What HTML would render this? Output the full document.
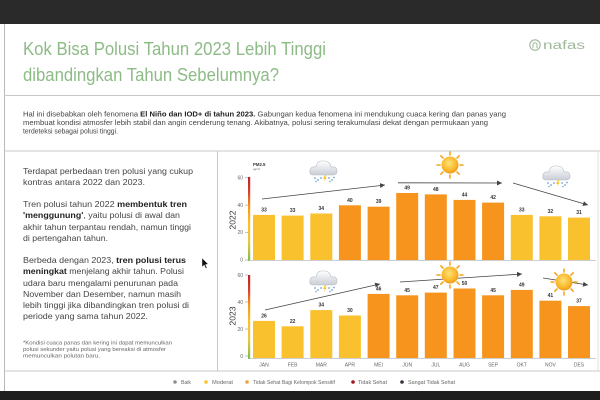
<!DOCTYPE html>
<html><head><meta charset="utf-8"><style>
html,body{margin:0;padding:0;background:#fff;}
svg{display:block;font-family:"Liberation Sans",Arial,sans-serif;}
</style></head><body>
<svg width="600" height="400" viewBox="0 0 600 400" xmlns="http://www.w3.org/2000/svg">
<defs>
<linearGradient id="axg" x1="0" y1="0" x2="0" y2="1">
<stop offset="0" stop-color="#b8232b"/><stop offset="0.18" stop-color="#d9402a"/>
<stop offset="0.35" stop-color="#f7941e"/><stop offset="0.55" stop-color="#fbc02d"/>
<stop offset="0.78" stop-color="#e8c83a"/><stop offset="1" stop-color="#7dbb4a"/>
</linearGradient>
<radialGradient id="sung" cx="0.45" cy="0.4" r="0.6">
<stop offset="0" stop-color="#ffe27a"/><stop offset="0.7" stop-color="#f9b82a"/><stop offset="1" stop-color="#f09a1a"/>
</radialGradient>
<linearGradient id="cldg" x1="0" y1="0" x2="0" y2="1">
<stop offset="0" stop-color="#ffffff"/><stop offset="1" stop-color="#c9ced6"/>
</linearGradient>
<marker id="ah" markerWidth="6" markerHeight="6" refX="5" refY="3" orient="auto" markerUnits="userSpaceOnUse">
<path d="M0,0.5 L5,3 L0,5.5 Z" fill="#444"/>
</marker>
<g id="sun">
<g stroke="#f4a623" stroke-width="1.6" stroke-linecap="round">
<line x1="0" y1="-10" x2="0" y2="-13"/><line x1="0" y1="10" x2="0" y2="13"/>
<line x1="-10" y1="0" x2="-13" y2="0"/><line x1="10" y1="0" x2="13" y2="0"/>
<line x1="7" y1="7" x2="9.2" y2="9.2"/><line x1="-7" y1="7" x2="-9.2" y2="9.2"/>
<line x1="7" y1="-7" x2="9.2" y2="-9.2"/><line x1="-7" y1="-7" x2="-9.2" y2="-9.2"/>
</g>
<circle r="8.5" fill="url(#sung)"/>
</g>
<g id="cloud">
<path d="M-11,5 Q-15,5 -14,0 Q-13,-4 -8,-3 Q-7,-10 0,-9 Q6,-9 7,-3 Q13,-4 13,1 Q13,5 9,5 Z" fill="url(#cldg)" stroke="#b5bcc6" stroke-width="0.6"/>
<path d="M1,5 L-1,9 L1,9 L-0.5,12 L3,7.5 L1,7.5 L2.5,5 Z" fill="#f6c526"/>
<g fill="#6fa3d8">
<circle cx="-9" cy="8" r="0.9"/><circle cx="-6" cy="10" r="0.9"/><circle cx="-3" cy="8" r="0.9"/>
<circle cx="5" cy="8" r="0.9"/><circle cx="8" cy="10" r="0.9"/><circle cx="10" cy="7.5" r="0.9"/>
<circle cx="-8" cy="11.5" r="0.8"/><circle cx="6" cy="11.5" r="0.8"/>
</g>
</g>
</defs>

<!-- dark bands -->
<rect x="0" y="0" width="600" height="24" fill="#2a2a2a"/>
<rect x="0" y="391" width="600" height="9" fill="#1e1e1e"/>

<!-- frame lines -->
<line x1="4.5" y1="24" x2="4.5" y2="391" stroke="#b9b9b9" stroke-width="1"/>
<line x1="4" y1="95.5" x2="600" y2="95.5" stroke="#c8c8c8" stroke-width="1"/>
<line x1="4" y1="151" x2="600" y2="151" stroke="#c8c8c8" stroke-width="1"/>
<line x1="4" y1="371" x2="600" y2="371" stroke="#c8c8c8" stroke-width="1"/>
<line x1="217.5" y1="151" x2="217.5" y2="371" stroke="#c8c8c8" stroke-width="1"/>
<line x1="598" y1="151" x2="598" y2="371" stroke="#e2e2e2" stroke-width="1"/>

<!-- title -->
<g fill="#8dbb86" font-size="18">
<text x="23" y="55" textLength="303" lengthAdjust="spacingAndGlyphs">Kok Bisa Polusi Tahun 2023 Lebih Tinggi</text>
<text x="23" y="81" textLength="256" lengthAdjust="spacingAndGlyphs">dibandingkan Tahun Sebelumnya?</text>
</g>
<!-- logo -->
<g>
<circle cx="535" cy="45" r="5.2" fill="none" stroke="#9fb899" stroke-width="1.1"/>
<path d="M533,48 L533,44 Q535,41.5 537,44 L537,48" fill="none" stroke="#9fb899" stroke-width="1"/>
<text x="543" y="49" font-size="11.5" fill="#9fb899" textLength="42" lengthAdjust="spacingAndGlyphs">nafas</text>
</g>

<!-- intro -->
<g font-size="7" fill="#444">
<text x="23" y="116.5" textLength="483" lengthAdjust="spacingAndGlyphs">Hal ini disebabkan oleh fenomena <tspan font-weight="bold" fill="#222">El Niño dan IOD+ di tahun 2023.</tspan> Gabungan kedua fenomena ini mendukung cuaca kering dan panas yang</text>
<text x="23" y="125" textLength="465" lengthAdjust="spacingAndGlyphs">membuat kondisi atmosfer lebih stabil dan angin cenderung tenang. Akibatnya, polusi sering terakumulasi dekat dengan permukaan yang</text>
<text x="23" y="133.5" textLength="95" lengthAdjust="spacingAndGlyphs">terdeteksi sebagai polusi tinggi.</text>
</g>

<!-- left panel -->
<g font-size="8.6" fill="#444">
<text x="23" y="174" textLength="170" lengthAdjust="spacingAndGlyphs">Terdapat perbedaan tren polusi yang cukup</text>
<text x="23" y="185" textLength="122" lengthAdjust="spacingAndGlyphs">kontras antara 2022 dan 2023.</text>
<text x="23" y="207" textLength="164" lengthAdjust="spacingAndGlyphs">Tren polusi tahun 2022 <tspan font-weight="bold" fill="#222">membentuk tren</tspan></text>
<text x="23" y="218" textLength="157" lengthAdjust="spacingAndGlyphs"><tspan font-weight="bold" fill="#222">'menggunung'</tspan>, yaitu polusi di awal dan</text>
<text x="23" y="230" textLength="168" lengthAdjust="spacingAndGlyphs">akhir tahun terpantau rendah, namun tinggi</text>
<text x="23" y="241" textLength="85" lengthAdjust="spacingAndGlyphs">di pertengahan tahun.</text>
<text x="23" y="263" textLength="163" lengthAdjust="spacingAndGlyphs">Berbeda dengan 2023, <tspan font-weight="bold" fill="#222">tren polusi terus</tspan></text>
<text x="23" y="274" textLength="161" lengthAdjust="spacingAndGlyphs"><tspan font-weight="bold" fill="#222">meningkat</tspan> menjelang akhir tahun. Polusi</text>
<text x="23" y="286" textLength="155" lengthAdjust="spacingAndGlyphs">udara baru mengalami penurunan pada</text>
<text x="23" y="297" textLength="158" lengthAdjust="spacingAndGlyphs">November dan Desember, namun masih</text>
<text x="23" y="308" textLength="166" lengthAdjust="spacingAndGlyphs">lebih tinggi jika dibandingkan tren polusi di</text>
<text x="23" y="319" textLength="125" lengthAdjust="spacingAndGlyphs">periode yang sama tahun 2022.</text>
</g>
<g font-size="5" fill="#666">
<text x="23" y="344.5" textLength="149" lengthAdjust="spacingAndGlyphs">*Kondisi cuaca panas dan kering ini dapat memunculkan</text>
<text x="23" y="351" textLength="143" lengthAdjust="spacingAndGlyphs">polusi sekunder yaitu polusi yang bereaksi di atmosfer</text>
<text x="23" y="357.5" textLength="77" lengthAdjust="spacingAndGlyphs">memunculkan polutan baru.</text>
</g>
<!-- cursor -->
<path d="M202,258 L202,267 L204.2,265 L205.8,268.5 L207,268 L205.5,264.5 L208.3,264.3 Z" fill="#111" stroke="#fff" stroke-width="0.4"/>

<!-- legend -->
<g font-size="5" fill="#666">
<circle cx="175" cy="382" r="1.8" fill="#8b9488"/><text x="181" y="383.8" textLength="10" lengthAdjust="spacingAndGlyphs">Baik</text>
<circle cx="206" cy="382" r="1.8" fill="#fbc02d"/><text x="212" y="383.8" textLength="21" lengthAdjust="spacingAndGlyphs">Moderat</text>
<circle cx="247" cy="382" r="1.8" fill="#f0a040"/><text x="253" y="383.8" textLength="82" lengthAdjust="spacingAndGlyphs">Tidak Sehat Bagi Kelompok Sensitif</text>
<circle cx="353" cy="382" r="1.8" fill="#a3131c"/><text x="358" y="383.8" textLength="29" lengthAdjust="spacingAndGlyphs">Tidak Sehat</text>
<circle cx="402" cy="382" r="1.8" fill="#3b2e3e"/><text x="408" y="383.8" textLength="47" lengthAdjust="spacingAndGlyphs">Sangat Tidak Sehat</text>
</g>

<!-- ===== TOP CHART 2022 ===== -->
<g>
<text x="253" y="166" font-size="4.3" font-weight="bold" fill="#333">PM2.5</text>
<text x="253" y="170" font-size="2.8" fill="#666">μg/m³</text>
<rect x="248" y="177" width="2.2" height="84" fill="url(#axg)"/>
<line x1="249" y1="260.5" x2="596" y2="260.5" stroke="#bdbdbd" stroke-width="0.8"/>
<g font-size="5" fill="#666" text-anchor="end">
<text x="243" y="179.5">60</text><text x="243" y="206.8">40</text><text x="243" y="234.2">20</text><text x="243" y="261.5">0</text>
</g>
<g stroke="#999" stroke-width="0.6">
<line x1="245" y1="177.8" x2="248" y2="177.8"/><line x1="245" y1="205.1" x2="248" y2="205.1"/><line x1="245" y1="232.5" x2="248" y2="232.5"/><line x1="245" y1="260" x2="248" y2="260"/>
</g>
<text transform="translate(235.5,220) rotate(-90)" font-size="8.5" fill="#333" text-anchor="middle">2022</text>
<g>
<rect x="253" y="214.9" width="22" height="45.1" fill="#fac12f"/>
<rect x="281.6" y="215.6" width="22" height="44.4" fill="#fac12f"/>
<rect x="310.3" y="213.5" width="22" height="46.5" fill="#fac12f"/>
<rect x="338.9" y="205.3" width="22" height="54.7" fill="#f7941e"/>
<rect x="367.6" y="206.7" width="22" height="53.3" fill="#f7941e"/>
<rect x="396.2" y="193.0" width="22" height="67.0" fill="#f7941e"/>
<rect x="424.8" y="194.4" width="22" height="65.6" fill="#f7941e"/>
<rect x="453.5" y="199.9" width="22" height="60.1" fill="#f7941e"/>
<rect x="482.1" y="202.6" width="22" height="57.4" fill="#f7941e"/>
<rect x="510.8" y="214.9" width="22" height="45.1" fill="#fac12f"/>
<rect x="539.4" y="216.3" width="22" height="43.7" fill="#fac12f"/>
<rect x="568.0" y="217.6" width="22" height="42.4" fill="#fac12f"/>
</g>
<g font-size="5" font-weight="bold" fill="#333" text-anchor="middle">
<text x="264" y="211.4">33</text><text x="292.6" y="212.1">33</text><text x="321.3" y="210">34</text>
<text x="349.9" y="201.8">40</text><text x="378.6" y="203.2">39</text><text x="407.2" y="189.5">49</text>
<text x="435.8" y="190.9">48</text><text x="464.5" y="196.4">44</text><text x="493.1" y="199.1">42</text>
<text x="521.8" y="211.4">33</text><text x="550.4" y="212.8">32</text><text x="579" y="214.1">31</text>
</g>
<g stroke="#444" stroke-width="0.8" fill="none">
<line x1="262" y1="199" x2="385" y2="185" marker-end="url(#ah)"/>
<line x1="398" y1="182.8" x2="502" y2="183" marker-end="url(#ah)"/>
<line x1="513" y1="183" x2="588" y2="205" marker-end="url(#ah)"/>
</g>
<use href="#cloud" x="324" y="170"/>
<use href="#sun" x="450" y="165"/>
<use href="#cloud" x="557" y="175"/>
</g>

<!-- ===== BOTTOM CHART 2023 ===== -->
<g>
<rect x="248" y="275" width="2.2" height="84" fill="url(#axg)"/>
<line x1="249" y1="358.5" x2="596" y2="358.5" stroke="#bdbdbd" stroke-width="0.8"/>
<g font-size="5" fill="#666" text-anchor="end">
<text x="243" y="277">60</text><text x="243" y="304">40</text><text x="243" y="331">20</text><text x="243" y="358">0</text>
</g>
<g stroke="#999" stroke-width="0.6">
<line x1="245" y1="275" x2="248" y2="275"/><line x1="245" y1="302" x2="248" y2="302"/><line x1="245" y1="329" x2="248" y2="329"/><line x1="245" y1="356" x2="248" y2="356"/>
</g>
<text transform="translate(235.5,316) rotate(-90)" font-size="8.5" fill="#333" text-anchor="middle">2023</text>
<g>
<rect x="253" y="320.9" width="22" height="37.1" fill="#fac12f"/>
<rect x="281.6" y="326.3" width="22" height="31.7" fill="#fac12f"/>
<rect x="310.3" y="310.1" width="22" height="47.9" fill="#fac12f"/>
<rect x="338.9" y="315.5" width="22" height="42.5" fill="#fac12f"/>
<rect x="367.6" y="293.9" width="22" height="64.1" fill="#f7941e"/>
<rect x="396.2" y="295.3" width="22" height="62.7" fill="#f7941e"/>
<rect x="424.8" y="292.6" width="22" height="65.4" fill="#f7941e"/>
<rect x="453.5" y="288.5" width="22" height="69.5" fill="#f7941e"/>
<rect x="482.1" y="295.3" width="22" height="62.7" fill="#f7941e"/>
<rect x="510.8" y="289.9" width="22" height="68.1" fill="#f7941e"/>
<rect x="539.4" y="300.7" width="22" height="57.3" fill="#f7941e"/>
<rect x="568.0" y="306.1" width="22" height="51.9" fill="#f7941e"/>
</g>
<g font-size="5" font-weight="bold" fill="#333" text-anchor="middle">
<text x="264" y="317.4">26</text><text x="292.6" y="322.8">22</text><text x="321.3" y="306.6">34</text>
<text x="349.9" y="312">30</text><text x="378.6" y="290.4">46</text><text x="407.2" y="291.8">45</text>
<text x="435.8" y="289.1">47</text><text x="464.5" y="285">50</text><text x="493.1" y="291.8">45</text>
<text x="521.8" y="286.4">49</text><text x="550.4" y="297.2">41</text><text x="579" y="302.6">37</text>
</g>
<g font-size="5" fill="#666" text-anchor="middle">
<text x="264" y="366.5">JAN</text><text x="292.6" y="366.5">FEB</text><text x="321.3" y="366.5">MAR</text>
<text x="349.9" y="366.5">APR</text><text x="378.6" y="366.5">MEI</text><text x="407.2" y="366.5">JUN</text>
<text x="435.8" y="366.5">JUL</text><text x="464.5" y="366.5">AUG</text><text x="493.1" y="366.5">SEP</text>
<text x="521.8" y="366.5">OKT</text><text x="550.4" y="366.5">NOV</text><text x="579" y="366.5">DES</text>
</g>
<g stroke="#444" stroke-width="0.8" fill="none">
<line x1="265" y1="310" x2="380" y2="284" marker-end="url(#ah)"/>
<line x1="400" y1="282" x2="522" y2="274" marker-end="url(#ah)"/>
<line x1="543" y1="278" x2="588" y2="285" marker-end="url(#ah)"/>
</g>
<use href="#cloud" x="324" y="280"/>
<use href="#sun" x="450" y="275"/>
<use href="#sun" x="564" y="282"/>
</g>
</svg>
</body></html>
